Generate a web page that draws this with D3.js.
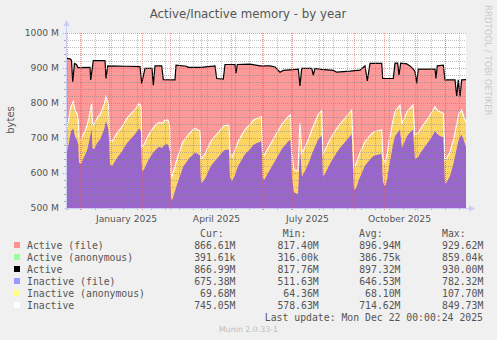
<!DOCTYPE html>
<html><head><meta charset="utf-8">
<script src="https://cdn.jsdelivr.net/npm/d3@7"></script>
<style>body{margin:0;background:#f0f0f0;} svg{display:block}</style>
</head><body><svg id="c" width="497" height="340"></svg>
<script>
const chartTitle = "Active/Inactive memory - by year";
const yLabel = "bytes";
const startMs = Date.UTC(2024, 10, 17, 0, 0, 24);
const endMs = Date.UTC(2025, 11, 22, 0, 0, 24);
const yTicks = [500, 600, 700, 800, 900, 1000];
const yTickLabels = ["500 M", "600 M", "700 M", "800 M", "900 M", "1000 M"];
const xLabelDays = ["2025-01-16", "2025-04-16", "2025-07-16", "2025-10-16"];
const xLabels = ["January 2025", "April 2025", "July 2025", "October 2025"];

// Active (black line, top of pink area): day offset from start, value in M
const activeDays = [0,4,5.5,6.7,8.5,10.5,12,24,24.7,27.3,39,40,41.7,60,74,75.7,79,86,87.3,89,95.7,97.3,109,110,120.7,122,135,149,150.7,157.3,159,169,170,171.3,184,194,204,209,214,217.3,232.3,234,235.7,245.7,247.3,249,255,267.3,270.7,284,294,297.3,299,301.3,304,315.7,316.7,327.3,329,331.7,333,334.7,340.7,344,347.3,349,350.7,352.3,369,370,371.3,377.3,379,389,390.7,392.3,394,395.7,400];
const activeVals = [928,926,922,861,913,910,901,902,866,921,921,870,906,905,904,856,899,899,851,906,906,867,866,908,905,902,902,906,870,868,910,910,885,910,911,906,906,903,888,893,897,849,899,899,880,899,896,893,888,891,894,902,906,863,913,913,870,870,914,914,880,914,912,906,897,890,856,897,897,870,906,908,866,866,820,866,819,866,867];

// Inactive (white line) and Inactive (file) (purple area top), sampled on the same days
const inactiveDays = [0,3,5,7.3,9,11,12.3,13,15,17,19,21,23,25.7,26.5,28,30,32,34,36,38,40,42.5,44,46,49,52,55,58,61,64,67,70,73,75,76,78,81,84,87,90,93,96,99,102,104,105,106,108,111,114,117,120,123,126,129,132,134,135,137,140,143,146,149,152,155,158,162,163,164,166,169,172,175,178,181,184,187,190,193,195.5,196.7,198,201,204,207,210,213,216,219,222,224.5,226,228,232,233.3,234,235,236,240,243,246,249,252,255.7,257,259,262,265,268,271,274,277,280,283,285.7,288,290,293,296,299,302,305,308,311,315.7,317,319,321,323,325,327,329,334,336,338,341,344,347,349,352,355,358,361,364,367,369,371,374,377.5,379,381,384,387,390,393,395.7,398,400];
const inactiveVals = [713,760,790,804,780,770,751,699,694,709,720,735,760,799,742,737,751,761,766,780,794,818,794,694,690,704,718,728,742,756,766,775,785,799,790,675,680,700,715,728,738,745,742,751,751,730,599,590,610,640,665,690,700,712,720,728,723,720,640,645,660,680,695,705,715,725,735,737,735,656,645,665,690,705,720,730,738,750,755,758,761,656,650,665,680,695,710,725,740,750,760,766,656,610,606,700,742,700,656,680,700,725,745,766,778,656,665,685,700,715,728,740,750,760,770,780,618,625,650,670,690,700,710,718,720,723,642,630,650,690,720,750,775,794,740,755,775,785,794,709,715,728,740,752,765,780,790,780,775,770,637,645,660,690,730,770,780,760,745];
const inactiveFileVals = [647,690,720,728,705,695,682,630,625,640,652,665,690,728,672,668,680,690,696,710,724,750,725,625,620,634,648,658,672,686,696,705,715,728,720,606,610,630,645,658,668,675,672,682,682,662,532,522,540,568,592,618,630,642,650,658,654,650,572,575,590,610,625,635,645,655,665,668,665,588,577,595,620,635,650,660,668,680,685,688,692,588,580,595,610,625,640,655,670,680,690,696,588,545,540,632,675,632,590,612,632,656,676,696,708,590,598,616,632,646,660,672,682,692,702,712,551,557,582,602,622,632,642,650,652,655,574,562,580,620,650,682,706,725,672,686,706,716,724,640,646,660,672,684,696,710,720,712,706,702,568,576,592,622,662,700,710,692,675];

const legendNames = ["Active (file)", "Active (anonymous)", "Active", "Inactive (file)", "Inactive (anonymous)", "Inactive"];
const legendColors = ["#ff9090", "#99ff99", "#000000", "#9999ff", "#ffff88", "#ffffff"];
const curVals = ["866.61M", "391.61k", "866.99M", "675.38M", "69.68M", "745.05M"];
const minVals = ["817.40M", "316.00k", "817.76M", "511.63M", "64.36M", "578.63M"];
const avgVals = ["896.94M", "386.75k", "897.32M", "646.53M", "68.10M", "714.62M"];
const maxVals = ["929.62M", "859.04k", "930.00M", "782.32M", "107.70M", "849.73M"];
const colHeaders = ["Cur:", "Min:", "Avg:", "Max:"];
const lastUpdate = "Last update: Mon Dec 22 00:00:24 2025";
const footer = "Munin 2.0.33-1";
const watermark = "RRDTOOL / TOBI OETIKER";

const DAY = 86400000;
const toDate = d => new Date(startMs + d * DAY);
const svg = d3.select("#c");
const L = 66, R = 466, T = 33, B = 208;
const x = d3.scaleUtc().domain([new Date(startMs), new Date(endMs)]).range([L, R]);
const y = d3.scaleLinear().domain([500, 1000]).range([B, T]);

svg.append("rect").attr("width", 497).attr("height", 340).attr("fill", "#f0f0f0");
svg.append("rect").attr("x", L).attr("y", T).attr("width", R - L).attr("height", B - T).attr("fill", "#ffffff");

svg.append("defs").append("clipPath").attr("id", "clip")
  .append("rect").attr("x", L).attr("y", T).attr("width", R - L).attr("height", B - T);
const g = svg.append("g").attr("clip-path", "url(#clip)");

const activePts = activeDays.map((d, i) => ({ t: toDate(d), v: activeVals[i] }));
const inPts = inactiveDays.map((d, i) => ({ t: toDate(d), w: inactiveVals[i], p: inactiveFileVals[i] }));

g.append("path").datum(activePts).attr("fill", "#ff9999")
  .attr("d", d3.area().x(d => x(d.t)).y0(B + 5).y1(d => y(d.v)));
g.append("path").datum(inPts).attr("fill", "#9966cc")
  .attr("d", d3.area().x(d => x(d.t)).y0(B + 5).y1(d => y(d.p)));
g.append("path").datum(inPts).attr("fill", "#fdd565")
  .attr("d", d3.area().x(d => x(d.t)).y0(d => y(d.p)).y1(d => y(d.w)));
g.append("path").datum(inPts).attr("fill", "none").attr("stroke", "#ffffff").attr("stroke-width", 1.1)
  .attr("d", d3.line().x(d => x(d.t)).y(d => y(d.w)));
g.append("path").datum(activePts).attr("fill", "none").attr("stroke", "#000000").attr("stroke-width", 1.2)
  .attr("d", d3.line().x(d => x(d.t)).y(d => y(d.v)));

// grid
const grid = svg.append("g");
const minorY = d3.range(500, 1001, 20).filter(v => v % 100 !== 0);
grid.selectAll(".hmin").data(minorY).join("line")
  .attr("x1", L).attr("x2", R).attr("y1", d => Math.round(y(d)) + 0.5).attr("y2", d => Math.round(y(d)) + 0.5)
  .attr("stroke", "rgba(130,130,130,0.5)").attr("stroke-dasharray", "1,1");
const mondays = d3.utcMonday.range(new Date(startMs), new Date(endMs)).filter((d, i) => i % 2 === 0);
grid.selectAll(".vmin").data(mondays).join("line")
  .attr("y1", T).attr("y2", B).attr("x1", d => Math.round(x(d)) + 0.5).attr("x2", d => Math.round(x(d)) + 0.5)
  .attr("stroke", "rgba(130,130,130,0.5)").attr("stroke-dasharray", "1,1");
const months = d3.utcMonth.range(new Date(startMs), new Date(endMs));
grid.selectAll(".vmaj").data(months).join("line")
  .attr("y1", T).attr("y2", B + 3).attr("x1", d => Math.round(x(d)) + 0.5).attr("x2", d => Math.round(x(d)) + 0.5)
  .attr("stroke", "rgba(240,90,90,0.6)").attr("stroke-dasharray", "1,1");
grid.selectAll(".hmaj").data(yTicks.slice(1)).join("line")
  .attr("x1", L - 3).attr("x2", R).attr("y1", d => Math.round(y(d)) + 0.5).attr("y2", d => Math.round(y(d)) + 0.5)
  .attr("stroke", "rgba(240,90,90,0.6)").attr("stroke-dasharray", "1,1");
grid.selectAll(".ytk").data(minorY).join("line")
  .attr("x1", L - 2).attr("x2", L).attr("y1", d => Math.round(y(d)) + 0.5).attr("y2", d => Math.round(y(d)) + 0.5)
  .attr("stroke", "#aaaaaa");
grid.selectAll(".xtk").data(mondays).join("line")
  .attr("y1", B).attr("y2", B + 2).attr("x1", d => Math.round(x(d)) + 0.5).attr("x2", d => Math.round(x(d)) + 0.5)
  .attr("stroke", "#aaaaaa");

// axes lines & arrows
const axc = "#c9ccf5";
svg.append("line").attr("x1", L + 0.5).attr("x2", L + 0.5).attr("y1", B + 2).attr("y2", T - 8).attr("stroke", axc);
svg.append("line").attr("x1", L - 2).attr("x2", R + 4).attr("y1", B + 0.5).attr("y2", B + 0.5).attr("stroke", axc);
svg.append("path").attr("d", `M${L - 2.5},${T - 7} L${L + 3.5},${T - 7} L${L + 0.5},${T - 13} Z`).attr("fill", axc);
svg.append("path").attr("d", `M${R + 3},${B - 2.5} L${R + 3},${B + 3.5} L${R + 9},${B + 0.5} Z`).attr("fill", axc);

// y labels
const yAxis = d3.axisLeft(y).tickValues(yTicks).tickFormat((d, i) => yTickLabels[i]).tickSize(0).tickPadding(7);
const ya = svg.append("g").attr("transform", `translate(${L},0)`).call(yAxis);
ya.select(".domain").remove();
ya.selectAll("text").attr("font-family", "DejaVu Sans").attr("font-size", 9.2).attr("fill", "#555");

// x labels
const xa = svg.append("g").attr("transform", `translate(0,${B})`)
  .call(d3.axisBottom(x).tickValues(xLabelDays.map(s => new Date(s + "T00:00:00Z"))).tickFormat((d, i) => xLabels[i]).tickSize(0).tickPadding(7));
xa.select(".domain").remove();
xa.selectAll("text").attr("font-family", "DejaVu Sans").attr("font-size", 9.2).attr("fill", "#555");

// title
svg.append("text").attr("x", 248).attr("y", 18).attr("text-anchor", "middle")
  .attr("font-family", "DejaVu Sans").attr("font-size", 11.8).attr("fill", "#555").text(chartTitle);
svg.append("text").attr("transform", "translate(14,120) rotate(-90)").attr("text-anchor", "middle")
  .attr("font-family", "DejaVu Sans").attr("font-size", 10).attr("fill", "#555").text(yLabel);
svg.append("text").attr("transform", "translate(485,5) rotate(90)").attr("text-anchor", "start")
  .attr("font-family", "DejaVu Sans").attr("font-size", 8.6).attr("fill", "#cccccc").text(watermark);

// legend
const mono = "DejaVu Sans Mono";
const lg = svg.append("g").attr("font-family", mono).attr("font-size", 9.8).attr("fill", "#555");
const colRight = [235.5, 318.7, 400.5, 483.3];
const colHeadX = [200, 282.7, 359, 442];
colHeaders.forEach((h, i) => lg.append("text").attr("x", colHeadX[i]).attr("y", 236.8).text(h));
legendNames.forEach((n, i) => {
  const yy = 249 + 12 * i;
  lg.append("rect").attr("x", 14).attr("y", yy - 7).attr("width", 6).attr("height", 6).attr("fill", legendColors[i]);
  lg.append("text").attr("x", 27).attr("y", yy).text(n);
  [curVals, minVals, avgVals, maxVals].forEach((arr, j) => {
    lg.append("text").attr("x", colRight[j]).attr("y", yy).attr("text-anchor", "end").text(arr[i]);
  });
});
lg.append("text").attr("x", 483).attr("y", 320.5).attr("text-anchor", "end").text(lastUpdate);
svg.append("text").attr("x", 248.5).attr("y", 332).attr("text-anchor", "middle")
  .attr("font-family", "DejaVu Sans").attr("font-size", 7.8).attr("fill", "#bbbbbb").text(footer);
</script></body></html>
